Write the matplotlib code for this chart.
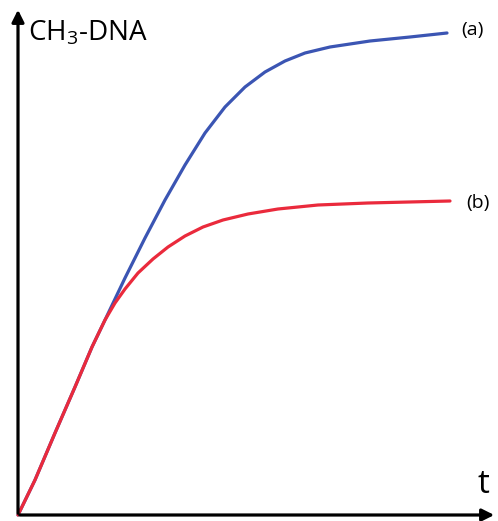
import matplotlib.pyplot as plt

plt.rcParams["mathtext.fontset"] = "custom"
plt.rcParams["mathtext.rm"] = "Open Sans"

# values (t, CH3-DNA in arbitrary units)
t_a = [0, 17, 37, 57, 74, 87, 107, 127, 147, 167, 187, 207, 227, 247, 267, 287, 312, 352, 392, 429]
y_a = [0, 35, 82, 128, 168, 195, 237, 277, 315, 350, 382, 408, 428, 443, 454, 462, 468, 474, 478, 482]
t_b = [0, 17, 37, 57, 74, 87, 97, 107, 120, 135, 150, 167, 185, 205, 230, 260, 300, 350, 432]
y_b = [0, 35, 82, 128, 168, 195, 212, 226, 242, 256, 268, 279, 288, 295, 301, 306, 310, 312, 314]

fig = plt.figure(figsize=(4.98, 5.21), dpi=100)
ax = fig.add_axes([0, 0, 1, 1])
ax.set_xlim(-18, 480)
ax.set_ylim(-6, 515)
ax.axis("off")

ax.plot(t_a, y_a, color="#3b55b3", lw=2.3, solid_capstyle="round", solid_joinstyle="round")
ax.plot(t_b, y_b, color="#ea2a3c", lw=2.3, solid_capstyle="round", solid_joinstyle="round")

# axes with arrows
ax.annotate("", xy=(479, 0), xytext=(-1, 0),
            arrowprops=dict(arrowstyle="-|>", lw=2.3, color="black", mutation_scale=18))
ax.annotate("", xy=(0, 508), xytext=(0, -1),
            arrowprops=dict(arrowstyle="-|>", lw=2.3, color="black", mutation_scale=18))

ax.text(10, 475, r"CH$_\mathregular{3}$-DNA", fontsize=20, family="Open Sans", va="baseline")
ax.text(443, 485, "(a)", fontsize=14, family="Open Sans", va="center")
ax.text(448, 312, "(b)", fontsize=14, family="Open Sans", va="center")
ax.text(459, 22, "t", fontsize=24, family="Open Sans", va="baseline")

fig.savefig("out.png")
